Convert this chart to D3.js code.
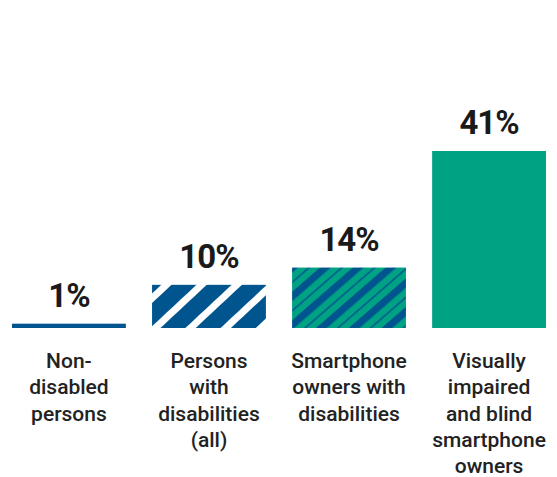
<!DOCTYPE html>
<html>
<head>
<meta charset="utf-8">
<script src="https://cdn.jsdelivr.net/npm/d3@7"></script>
<style>
  html, body { margin: 0; padding: 0; background: #fff; }
  svg { display: block; }
</style>
</head>
<body>
<svg id="chart" width="557" height="477"></svg>
<script>
// Share of each group (percent)
const categories = [
  ["Non-", "disabled", "persons"],
  ["Persons", "with", "disabilities", "(all)"],
  ["Smartphone", "owners with", "disabilities"],
  ["Visually", "impaired", "and blind", "smartphone", "owners"]
];
const values = [1, 10, 14, 41];
const valueLabels = ["1%", "10%", "14%", "41%"];
const fills = ["url(#solidBlue)", "url(#stripeWhite)", "url(#stripeTeal)", "url(#solidTeal)"];

const BLUE = "#01558f";
const TEAL = "#00a284";

const svg = d3.select("#chart");
const defs = svg.append("defs");

// solid fills as patterns for uniform handling
defs.append("pattern").attr("id", "solidBlue").attr("patternUnits", "userSpaceOnUse")
  .attr("width", 10).attr("height", 10)
  .append("rect").attr("width", 10).attr("height", 10).attr("fill", BLUE);
defs.append("pattern").attr("id", "solidTeal").attr("patternUnits", "userSpaceOnUse")
  .attr("width", 10).attr("height", 10)
  .append("rect").attr("width", 10).attr("height", 10).attr("fill", TEAL);

// blue with white diagonal stripes
const p1 = defs.append("pattern").attr("id", "stripeWhite").attr("patternUnits", "userSpaceOnUse")
  .attr("width", 24).attr("height", 10).attr("patternTransform", "translate(150,0) rotate(47)");
p1.append("rect").attr("width", 24).attr("height", 10).attr("fill", BLUE);
p1.append("rect").attr("x", 0).attr("width", 7).attr("height", 10).attr("fill", "#fff");

// teal with thick and thin blue diagonal stripes
const p2 = defs.append("pattern").attr("id", "stripeTeal").attr("patternUnits", "userSpaceOnUse")
  .attr("width", 21.5).attr("height", 10).attr("patternTransform", "translate(300,0) rotate(49)");
p2.append("rect").attr("width", 21.5).attr("height", 10).attr("fill", TEAL);
p2.append("rect").attr("x", 0).attr("width", 7.2).attr("height", 10).attr("fill", BLUE);
p2.append("rect").attr("x", 13.6).attr("width", 1.5).attr("height", 10).attr("fill", BLUE);

const x = d3.scaleBand().domain(d3.range(values.length)).range([-2, 560]).paddingInner(0.187).paddingOuter(0.1);
const y = d3.scaleLinear().domain([0, 41]).range([328, 151]);

const g = svg.append("g");

g.selectAll("rect.bar").data(values).join("rect")
  .attr("class", "bar")
  .attr("x", (d, i) => x(i))
  .attr("width", x.bandwidth())
  .attr("y", d => y(d))
  .attr("height", d => y(0) - y(d))
  .attr("fill", (d, i) => fills[i]);

g.selectAll("text.val").data(values).join("text")
  .attr("class", "val")
  .attr("x", (d, i) => x(i) + x.bandwidth() / 2)
  .attr("y", d => y(d) - 17)
  .attr("text-anchor", "middle")
  .attr("font-family", "Roboto, sans-serif")
  .attr("font-weight", 700)
  .attr("font-size", 33)
  .attr("letter-spacing", -1)
  .attr("fill", "#1a1a1a")
  .text((d, i) => valueLabels[i]);

const cat = g.selectAll("text.cat").data(categories).join("text")
  .attr("class", "cat")
  .attr("text-anchor", "middle")
  .attr("font-family", "Roboto, sans-serif")
  .attr("font-weight", 500)
  .attr("font-size", 21)
  .attr("fill", "#222");
cat.each(function(lines, i) {
  d3.select(this).selectAll("tspan").data(lines).join("tspan")
    .attr("x", x(i) + x.bandwidth() / 2)
    .attr("y", (d, j) => 368 + j * 26.3)
    .text(d => d);
});
</script>
</body>
</html>
